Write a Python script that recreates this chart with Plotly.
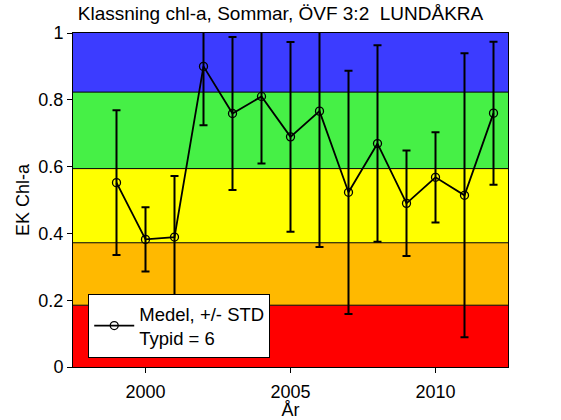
import plotly.graph_objects as go

years = [1999, 2000, 2001, 2002, 2003, 2004, 2005, 2006, 2007, 2008, 2009, 2010, 2011, 2012]
medel = [0.552, 0.382, 0.389, 0.900, 0.759, 0.810, 0.689, 0.766, 0.523, 0.669, 0.490, 0.568, 0.514, 0.760]
std = [0.217, 0.096, 0.183, 0.176, 0.229, 0.201, 0.284, 0.407, 0.364, 0.294, 0.158, 0.135, 0.425, 0.214]

band_edges = [0.0, 0.185, 0.372, 0.594, 0.823, 1.0]
band_colors = ["#FF0000", "#FFB900", "#FFFF00", "#46F046", "#3C3CFF"]

title_text = "Klassning chl-a, Sommar, ÖVF 3:2  LUNDÅKRA"
legend_text = "Medel, +/- STD<br>Typid = 6"
x_ticks = [2000, 2005, 2010]
y_ticks = [0, 0.2, 0.4, 0.6, 0.8, 1]

FONT = "Liberation Sans, Arial, sans-serif"

fig = go.Figure()

shapes = []
for i, c in enumerate(band_colors):
    shapes.append(dict(type="rect", xref="paper", yref="y", x0=0, x1=1,
                       y0=band_edges[i], y1=band_edges[i + 1],
                       fillcolor=c, line=dict(width=0), layer="below"))
for e in band_edges[1:-1]:
    shapes.append(dict(type="line", xref="paper", yref="y", x0=0, x1=1,
                       y0=e, y1=e, line=dict(color="black", width=1), layer="below"))

fig.add_trace(go.Scatter(
    x=years, y=medel, mode="lines+markers", name=legend_text,
    line=dict(color="black", width=1.8),
    marker=dict(symbol="circle-open", size=8, color="black", line=dict(width=1.3)),
    error_y=dict(type="data", array=std, visible=True, color="black", thickness=2, width=4),
))

fig.update_layout(
    width=561, height=420,
    margin=dict(l=73, r=53, t=33, b=53, autoexpand=False),
    paper_bgcolor="white", plot_bgcolor="white",
    shapes=shapes,
    font=dict(family=FONT, size=18, color="black"),
    title=dict(text=title_text, x=0.5, xanchor="center", y=0.985, yanchor="top",
               pad=dict(t=0, b=0),
               font=dict(family=FONT, size=19, color="black"), automargin=False),
    showlegend=True,
    legend=dict(x=0.035, y=0.027, xanchor="left", yanchor="bottom",
                bgcolor="white", bordercolor="black", borderwidth=1,
                font=dict(family=FONT, size=18.5, color="black"),
                itemwidth=40, tracegroupgap=0),
    xaxis=dict(range=[1997.5, 2012.5], tickvals=x_ticks, ticks="outside", ticklen=5,
               tickcolor="black", showline=True, linecolor="black", mirror=True,
               showgrid=False, zeroline=False, automargin=False, ticklabelstandoff=3,
               title=dict(text="År", standoff=0, font=dict(size=18))),
    yaxis=dict(range=[0, 1], tickvals=y_ticks, ticktext=["0", "0.2", "0.4", "0.6", "0.8", "1"],
               ticks="outside", ticklen=5, tickcolor="black",
               showline=True, linecolor="black", mirror=True,
               showgrid=False, zeroline=False, automargin=False,
               title=dict(text="EK Chl-a", standoff=4, font=dict(size=18))),
)

fig.write_html("out.html", config={"displayModeBar": False},
               post_script="document.body.style.margin='0px';")
